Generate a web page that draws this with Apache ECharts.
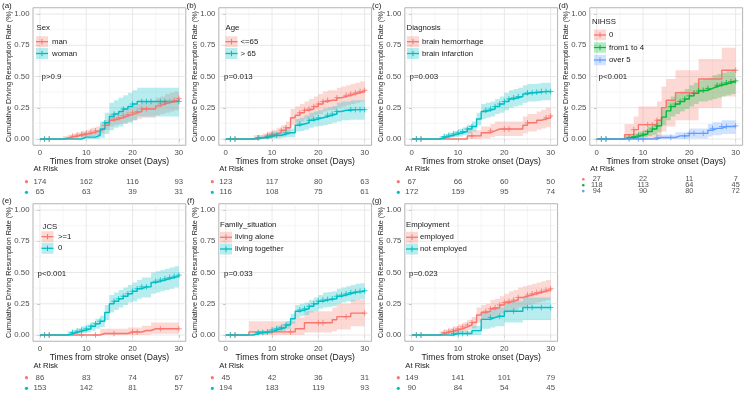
<!DOCTYPE html>
<html>
<head>
<meta charset="utf-8">
<script src="https://cdn.jsdelivr.net/npm/echarts@6/dist/echarts.min.js"></script>
<style>
  html, body { margin: 0; padding: 0; background: #fff; }
  #chart { width: 750px; height: 400px; }
</style>
</head>
<body>
<div id="chart"></div>
<script>
// time axis (days) and the risk-table time points
const days = [0,1,2,3,4,5,6,7,8,9,10,11,12,13,14,15,16,17,18,19,20,21,22,23,24,25,26,27,28,29,30];
const riskTimes = [0, 10, 20, 30];
const majorX = [0, 10, 20, 30];
const minorX = [5, 15, 25];
const majorY = [0, 0.25, 0.5, 0.75, 1];
const minorY = [0.125, 0.375, 0.625, 0.875];

// (a) Sex
const sexManEst = [0,0,0,0,0,0.008,0.015,0.022,0.03,0.037, 0.045,0.055,0.065,0.08,0.11,0.15,0.16,0.17,0.185,0.195, 0.21,0.22,0.24,0.24,0.24,0.265,0.28,0.29,0.3,0.31, 0.325];
const sexManLo = [0,0,0,0,0,0,0,0.002,0.008,0.012, 0.018,0.025,0.032,0.045,0.07,0.1,0.11,0.12,0.13,0.14, 0.15,0.16,0.17,0.17,0.17,0.19,0.2,0.21,0.22,0.23, 0.24];
const sexManHi = [0,0,0,0,0,0.025,0.035,0.045,0.055,0.065, 0.075,0.09,0.1,0.12,0.15,0.2,0.21,0.22,0.24,0.25, 0.27,0.28,0.3,0.3,0.3,0.33,0.34,0.36,0.37,0.38, 0.39];
const sexWomanEst = [0,0,0,0,0,0,0,0,0,0.015, 0.015,0.015,0.03,0.08,0.13,0.18,0.2,0.22,0.24,0.26, 0.28,0.3,0.3,0.3,0.3,0.3,0.3,0.3,0.3,0.3, 0.3];
const sexWomanLo = [0,0,0,0,0,0,0,0,0,0, 0,0,0,0.01,0.04,0.07,0.09,0.1,0.12,0.13, 0.15,0.18,0.18,0.18,0.18,0.18,0.18,0.18,0.18,0.18, 0.18];
const sexWomanHi = [0,0,0,0,0,0,0,0,0,0.05, 0.05,0.05,0.07,0.14,0.21,0.29,0.31,0.33,0.35,0.37, 0.39,0.41,0.41,0.41,0.41,0.41,0.41,0.41,0.41,0.41, 0.41];
const sexManCens = [1,2,7,8,9,10,11,12,14,16,17,18,19,20,21,22,23,26,27,28,29,30];
const sexWomanCens = [1,2,14,16,18,20,22,23,24,26,27,30];
const sexManRisk = [174, 162, 116, 93];
const sexWomanRisk = [65, 63, 39, 31];

// (b) Age
const ageYoungEst = [0,0,0,0,0,0,0.01,0.01,0.02,0.03, 0.04,0.05,0.07,0.09,0.17,0.19,0.21,0.23,0.24,0.26, 0.28,0.3,0.31,0.31,0.33,0.34,0.35,0.36,0.37,0.38, 0.39];
const ageYoungLo = [0,0,0,0,0,0,0,0,0,0.005, 0.01,0.015,0.02,0.035,0.11,0.13,0.14,0.16,0.17,0.19, 0.2,0.22,0.23,0.23,0.25,0.26,0.27,0.28,0.29,0.3, 0.31];
const ageYoungHi = [0,0,0,0,0,0,0.03,0.03,0.045,0.06, 0.075,0.09,0.11,0.14,0.24,0.26,0.28,0.3,0.32,0.34, 0.36,0.38,0.39,0.39,0.41,0.42,0.43,0.44,0.45,0.46, 0.47];
const ageOldEst = [0,0,0,0,0,0,0,0.01,0.01,0.02, 0.03,0.03,0.04,0.05,0.05,0.11,0.12,0.13,0.15,0.16, 0.17,0.18,0.19,0.2,0.22,0.23,0.23,0.235,0.235,0.235, 0.235];
const ageOldLo = [0,0,0,0,0,0,0,0,0,0, 0.005,0.005,0.01,0.015,0.015,0.06,0.065,0.075,0.09,0.1, 0.105,0.11,0.12,0.13,0.14,0.15,0.15,0.155,0.155,0.155, 0.155];
const ageOldHi = [0,0,0,0,0,0,0,0.03,0.03,0.045, 0.06,0.06,0.07,0.085,0.085,0.16,0.17,0.19,0.21,0.22, 0.23,0.245,0.255,0.265,0.29,0.3,0.3,0.31,0.31,0.31, 0.31];
const ageYoungCens = [1,2,7,9,10,12,13,16,17,18,19,20,21,22,24,26,27,28,29,30];
const ageOldCens = [1,2,7,9,10,11,13,16,18,19,20,22,23,24,27,28,29,30];
const ageYoungRisk = [123, 117, 80, 63];
const ageOldRisk = [116, 108, 75, 61];

// (c) Diagnosis
const diagHemEst = [0,0,0,0,0,0,0,0,0,0, 0,0,0.025,0.025,0.025,0.05,0.05,0.065,0.08,0.08, 0.08,0.08,0.08,0.08,0.11,0.13,0.13,0.15,0.16,0.17, 0.185];
const diagHemLo = [0,0,0,0,0,0,0,0,0,0, 0,0,0,0,0,0.005,0.005,0.015,0.025,0.025, 0.025,0.025,0.025,0.025,0.045,0.06,0.06,0.075,0.085,0.095, 0.1];
const diagHemHi = [0,0,0,0,0,0,0,0,0,0, 0,0,0.07,0.07,0.07,0.1,0.1,0.12,0.14,0.14, 0.14,0.14,0.14,0.14,0.18,0.2,0.2,0.22,0.235,0.25, 0.26];
const diagInfEst = [0,0,0,0,0,0,0.01,0.02,0.03,0.04, 0.05,0.06,0.08,0.1,0.16,0.22,0.23,0.24,0.26,0.28, 0.3,0.32,0.33,0.34,0.36,0.37,0.37,0.375,0.38,0.38, 0.38];
const diagInfLo = [0,0,0,0,0,0,0,0.005,0.01,0.015, 0.02,0.03,0.045,0.06,0.11,0.16,0.17,0.18,0.2,0.21, 0.23,0.25,0.26,0.27,0.29,0.3,0.3,0.305,0.31,0.31, 0.31];
const diagInfHi = [0,0,0,0,0,0,0.025,0.04,0.05,0.065, 0.08,0.095,0.115,0.14,0.21,0.28,0.29,0.3,0.32,0.34, 0.37,0.39,0.4,0.41,0.43,0.44,0.44,0.445,0.45,0.45, 0.45];
const diagHemCens = [1,2,13,17,20,21,25,29,30];
const diagInfCens = [1,2,7,8,9,10,11,12,13,16,17,18,19,20,21,22,23,25,26,27,28,29,30];
const diagHemRisk = [67, 66, 60, 50];
const diagInfRisk = [172, 159, 95, 74];

// (d) NIHSS
const nih0Est = [0,0,0,0,0,0,0.035,0.035,0.075,0.115, 0.115,0.115,0.115,0.15,0.25,0.31,0.31,0.37,0.37,0.37, 0.37,0.37,0.48,0.48,0.48,0.48,0.48,0.55,0.55,0.55, 0.55];
const nih0Lo = [0,0,0,0,0,0,0,0,0,0, 0,0,0,0.01,0.06,0.1,0.1,0.15,0.15,0.15, 0.15,0.15,0.25,0.25,0.25,0.25,0.25,0.34,0.34,0.34, 0.34];
const nih0Hi = [0,0,0,0,0,0,0.12,0.12,0.18,0.26, 0.26,0.26,0.26,0.3,0.42,0.48,0.48,0.55,0.55,0.55, 0.55,0.55,0.64,0.64,0.64,0.64,0.64,0.73,0.73,0.73, 0.73];
const nih14Est = [0,0,0,0,0,0,0.01,0.01,0.02,0.03, 0.04,0.06,0.08,0.105,0.175,0.225,0.26,0.28,0.3,0.32, 0.345,0.365,0.385,0.39,0.405,0.42,0.43,0.44,0.45,0.46, 0.465];
const nih14Lo = [0,0,0,0,0,0,0,0,0.005,0.01, 0.015,0.025,0.035,0.055,0.11,0.15,0.18,0.2,0.22,0.24, 0.26,0.28,0.3,0.3,0.31,0.32,0.33,0.34,0.35,0.36, 0.36];
const nih14Hi = [0,0,0,0,0,0,0.03,0.03,0.045,0.06, 0.075,0.1,0.125,0.155,0.24,0.3,0.34,0.36,0.38,0.4, 0.43,0.45,0.47,0.48,0.49,0.51,0.52,0.53,0.54,0.55, 0.56];
const nih5Est = [0,0,0,0,0,0,0,0,0,0, 0,0,0,0.012,0.012,0.012,0.012,0.025,0.025,0.025, 0.045,0.045,0.045,0.045,0.07,0.085,0.085,0.1,0.1,0.1, 0.105];
const nih5Lo = [0,0,0,0,0,0,0,0,0,0, 0,0,0,0,0,0,0,0,0,0, 0.005,0.005,0.005,0.005,0.02,0.03,0.03,0.04,0.04,0.04, 0.045];
const nih5Hi = [0,0,0,0,0,0,0,0,0,0, 0,0,0,0.035,0.035,0.035,0.035,0.055,0.055,0.055, 0.085,0.085,0.085,0.085,0.12,0.135,0.135,0.15,0.15,0.15, 0.16];
const nih0Cens = [8,11,12,13,21,30];
const nih14Cens = [1,2,7,8,9,10,11,12,13,16,17,18,19,20,21,22,23,24,26,27,28,29,30];
const nih5Cens = [1,2,7,9,10,13,16,19,20,21,23,25,27,28,30];
const nih0Risk = [27, 22, 11, 7];
const nih14Risk = [118, 113, 64, 45];
const nih5Risk = [94, 90, 80, 72];

// (e) JCS
const jcs1Est = [0,0,0,0,0,0,0,0,0,0, 0,0,0,0.012,0.012,0.012,0.012,0.012,0.012,0.024, 0.024,0.024,0.036,0.036,0.05,0.05,0.05,0.05,0.05,0.05, 0.05];
const jcs1Lo = [0,0,0,0,0,0,0,0,0,0, 0,0,0,0,0,0,0,0,0,0, 0,0,0.002,0.002,0.01,0.01,0.01,0.01,0.01,0.01, 0.01];
const jcs1Hi = [0,0,0,0,0,0,0,0,0,0, 0,0,0,0.05,0.05,0.05,0.05,0.05,0.05,0.06, 0.06,0.06,0.075,0.075,0.1,0.1,0.1,0.1,0.1,0.1, 0.1];
const jcs0Est = [0,0,0,0,0,0,0.01,0.02,0.03,0.04, 0.05,0.07,0.09,0.11,0.18,0.25,0.27,0.29,0.31,0.33, 0.35,0.37,0.385,0.385,0.42,0.43,0.44,0.45,0.46,0.47, 0.48];
const jcs0Lo = [0,0,0,0,0,0,0,0.005,0.01,0.015, 0.02,0.035,0.05,0.065,0.12,0.18,0.2,0.22,0.24,0.26, 0.27,0.29,0.3,0.3,0.33,0.34,0.35,0.36,0.37,0.38, 0.39];
const jcs0Hi = [0,0,0,0,0,0,0.03,0.04,0.055,0.07, 0.085,0.105,0.13,0.155,0.24,0.32,0.34,0.36,0.38,0.4, 0.42,0.44,0.46,0.46,0.5,0.51,0.52,0.53,0.54,0.55, 0.56];
const jcs1Cens = [1,2,9,12,16,20,21,26,30];
const jcs0Cens = [1,2,7,8,9,10,11,12,13,16,17,18,19,20,21,22,23,25,26,27,28,29,30];
const jcs1Risk = [86, 83, 74, 67];
const jcs0Risk = [153, 142, 81, 57];

// (f) Family situation
const famAloneEst = [0,0,0,0,0,0.025,0.025,0.025,0.025,0.025, 0.025,0.025,0.025,0.025,0.025,0.05,0.05,0.098,0.098,0.098, 0.098,0.098,0.098,0.122,0.147,0.147,0.147,0.175,0.175,0.175, 0.175];
const famAloneLo = [0,0,0,0,0,0,0,0,0,0, 0,0,0,0,0,0,0,0.02,0.02,0.02, 0.02,0.02,0.02,0.03,0.045,0.045,0.045,0.07,0.07,0.07, 0.07];
const famAloneHi = [0,0,0,0,0,0.11,0.11,0.11,0.11,0.11, 0.11,0.11,0.11,0.11,0.11,0.14,0.14,0.19,0.19,0.19, 0.19,0.19,0.19,0.22,0.25,0.25,0.25,0.28,0.28,0.28, 0.28];
const famTogEst = [0,0,0,0,0,0,0.01,0.02,0.02,0.025, 0.04,0.05,0.06,0.08,0.13,0.19,0.2,0.21,0.23,0.25, 0.27,0.28,0.285,0.29,0.31,0.32,0.33,0.34,0.345,0.35, 0.355];
const famTogLo = [0,0,0,0,0,0,0,0.005,0.005,0.01, 0.02,0.025,0.035,0.05,0.09,0.14,0.15,0.16,0.18,0.19, 0.21,0.22,0.225,0.23,0.25,0.26,0.27,0.27,0.28,0.285, 0.29];
const famTogHi = [0,0,0,0,0,0,0.025,0.035,0.035,0.045, 0.06,0.075,0.09,0.11,0.17,0.24,0.25,0.26,0.28,0.3, 0.32,0.34,0.345,0.35,0.37,0.38,0.39,0.4,0.41,0.415, 0.42];
const famAloneCens = [1,2,10,14,20,21,26,30];
const famTogCens = [1,2,7,8,9,10,11,12,13,16,17,18,19,20,21,22,23,24,25,26,27,28,29,30];
const famAloneRisk = [45, 42, 36, 31];
const famTogRisk = [194, 183, 119, 93];

// (g) Employment
const empYesEst = [0,0,0,0,0,0,0.01,0.02,0.03,0.04, 0.05,0.065,0.08,0.1,0.16,0.18,0.19,0.21,0.22,0.24, 0.26,0.27,0.28,0.3,0.31,0.32,0.33,0.34,0.35,0.36, 0.37];
const empYesLo = [0,0,0,0,0,0,0,0.005,0.01,0.015, 0.02,0.03,0.04,0.055,0.1,0.12,0.13,0.14,0.15,0.17, 0.18,0.19,0.2,0.22,0.23,0.24,0.25,0.26,0.27,0.28, 0.29];
const empYesHi = [0,0,0,0,0,0,0.03,0.045,0.055,0.07, 0.085,0.1,0.12,0.145,0.22,0.24,0.25,0.28,0.29,0.31, 0.33,0.35,0.36,0.38,0.39,0.4,0.41,0.42,0.43,0.44, 0.45];
const empNoEst = [0,0,0,0,0,0,0,0,0,0.012, 0.012,0.012,0.012,0.035,0.035,0.125,0.125,0.14,0.15,0.15, 0.19,0.19,0.19,0.19,0.22,0.22,0.22,0.22,0.22,0.22, 0.22];
const empNoLo = [0,0,0,0,0,0,0,0,0,0, 0,0,0,0,0,0.05,0.05,0.06,0.07,0.07, 0.1,0.1,0.1,0.1,0.12,0.12,0.12,0.12,0.12,0.12, 0.12];
const empNoHi = [0,0,0,0,0,0,0,0,0,0.035, 0.035,0.035,0.035,0.075,0.075,0.19,0.19,0.21,0.22,0.22, 0.27,0.27,0.27,0.27,0.3,0.3,0.3,0.3,0.3,0.3, 0.3];
const empYesCens = [1,2,7,8,9,10,11,12,13,16,17,18,19,20,21,22,23,25,26,27,28,29,30];
const empNoCens = [1,2,9,10,11,12,17,19,22,25,26,28,30];
const empYesRisk = [149, 141, 101, 79];
const empNoRisk = [90, 84, 54, 45];

const RED = '#F8766D', TEAL = '#00BFC4', GREEN = '#00BA38', BLUE = '#619CFF';

const panels = [
  { tag: '(a)', title: 'Sex', pval: 'p>0.9', groups: [
    { name: 'man', color: RED, est: sexManEst, lo: sexManLo, hi: sexManHi, cens: sexManCens, risk: sexManRisk },
    { name: 'woman', color: TEAL, est: sexWomanEst, lo: sexWomanLo, hi: sexWomanHi, cens: sexWomanCens, risk: sexWomanRisk }] },
  { tag: '(b)', title: 'Age', pval: 'p=0.013', groups: [
    { name: '<=65', color: RED, est: ageYoungEst, lo: ageYoungLo, hi: ageYoungHi, cens: ageYoungCens, risk: ageYoungRisk },
    { name: '> 65', color: TEAL, est: ageOldEst, lo: ageOldLo, hi: ageOldHi, cens: ageOldCens, risk: ageOldRisk }] },
  { tag: '(c)', title: 'Diagnosis', pval: 'p=0.003', groups: [
    { name: 'brain hemorrhage', color: RED, est: diagHemEst, lo: diagHemLo, hi: diagHemHi, cens: diagHemCens, risk: diagHemRisk },
    { name: 'brain infarction', color: TEAL, est: diagInfEst, lo: diagInfLo, hi: diagInfHi, cens: diagInfCens, risk: diagInfRisk }] },
  { tag: '(d)', title: 'NIHSS', pval: 'p<0.001', groups: [
    { name: '0', color: RED, est: nih0Est, lo: nih0Lo, hi: nih0Hi, cens: nih0Cens, risk: nih0Risk },
    { name: 'from1 to 4', color: GREEN, est: nih14Est, lo: nih14Lo, hi: nih14Hi, cens: nih14Cens, risk: nih14Risk },
    { name: 'over 5', color: BLUE, est: nih5Est, lo: nih5Lo, hi: nih5Hi, cens: nih5Cens, risk: nih5Risk }] },
  { tag: '(e)', title: 'JCS', pval: 'p<0.001', groups: [
    { name: '>=1', color: RED, est: jcs1Est, lo: jcs1Lo, hi: jcs1Hi, cens: jcs1Cens, risk: jcs1Risk },
    { name: '0', color: TEAL, est: jcs0Est, lo: jcs0Lo, hi: jcs0Hi, cens: jcs0Cens, risk: jcs0Risk }] },
  { tag: '(f)', title: 'Family_situation', pval: 'p=0.033', groups: [
    { name: 'living alone', color: RED, est: famAloneEst, lo: famAloneLo, hi: famAloneHi, cens: famAloneCens, risk: famAloneRisk },
    { name: 'living together', color: TEAL, est: famTogEst, lo: famTogLo, hi: famTogHi, cens: famTogCens, risk: famTogRisk }] },
  { tag: '(g)', title: 'Employment', pval: 'p=0.023', groups: [
    { name: 'employed', color: RED, est: empYesEst, lo: empYesLo, hi: empYesHi, cens: empYesCens, risk: empYesRisk },
    { name: 'not employed', color: TEAL, est: empNoEst, lo: empNoLo, hi: empNoHi, cens: empNoCens, risk: empNoRisk }] }
];

// layout (pixels)
const FONT = '"Liberation Sans", Arial, sans-serif';
const COLX = [33, 218.8, 404.8, 589.8];
const ROWY = [7.75, 203.75];
const PW = 152.8, PH = 137.5;
const panelCell = [[0, 0], [1, 0], [2, 0], [3, 0], [0, 1], [1, 1], [2, 1]];
const legendPos = [
  { tx: 36.5, ty: 28, kx: 36, lx: 52, ky: [41.7, 53.5], kh: 11 },
  { tx: 225.5, ty: 28, kx: 225.5, lx: 240.5, ky: [41.7, 53.5], kh: 11 },
  { tx: 406.5, ty: 28, kx: 407, lx: 422, ky: [41.7, 53.5], kh: 11 },
  { tx: 592, ty: 21.7, kx: 594, lx: 609, ky: [35, 47.5, 60], kh: 10.5 },
  { tx: 42.5, ty: 226.7, kx: 41.5, lx: 58, ky: [236.7, 248.3], kh: 11 },
  { tx: 220, ty: 225, kx: 220, lx: 235, ky: [237.3, 249], kh: 11 },
  { tx: 406, ty: 225, kx: 406, lx: 420, ky: [237.3, 249], kh: 11 }
];
const pPos = [[41.5, 77], [224, 77], [409.5, 77], [598.5, 77], [37.5, 274], [224, 274], [409, 274]];
const tagPos = [[2, 5.5], [186.5, 5.5], [372, 5.5], [558.5, 5.5], [2, 200.5], [187, 200.5], [372, 200.5]];
const atRiskY = [169, 365.7];
const riskTop = [176.4, 372.4];

function rgba(hex, a) {
  const n = parseInt(hex.slice(1), 16);
  return `rgba(${(n >> 16) & 255},${(n >> 8) & 255},${n & 255},${a})`;
}

const PLUS = 'path://M0,5L10,5M5,0L5,10';
const option = {
  animation: false,
  backgroundColor: '#fff',
  textStyle: { fontFamily: FONT },
  grid: [], xAxis: [], yAxis: [], series: [], graphic: []
};
const gfx = [];
const txt = (x, y, text, size, extra) => gfx.push(Object.assign({
  type: 'text', x, y, z: 100, silent: true,
  style: Object.assign({ text, fontSize: size, fontFamily: FONT, fill: '#1a1a1a', align: 'left', verticalAlign: 'middle' }, extra || {})
}));

let gi = 0;
panels.forEach((pn, i) => {
  const [c, r] = panelCell[i];
  const left = COLX[c], top = ROWY[r];

  option.grid.push({ left, top, width: PW, height: PH, show: true, borderColor: '#b3b3b3', borderWidth: 1,
    backgroundColor: '#fff', outerBoundsMode: 'none' });
  option.xAxis.push({ gridIndex: gi, type: 'value', min: -1.5, max: 31.5,
    splitLine: { show: false }, axisLine: { show: false },
    axisTick: { show: true, customValues: majorX, length: 2.5, lineStyle: { color: '#b3b3b3' } },
    axisLabel: { customValues: majorX, margin: 3.5, fontSize: 7.8, color: '#4d4d4d', fontFamily: FONT } });
  option.yAxis.push({ gridIndex: gi, type: 'value', min: -0.05, max: 1.05,
    splitLine: { show: false }, axisLine: { show: false },
    axisTick: { show: true, customValues: majorY, length: 2.5, lineStyle: { color: '#b3b3b3' } },
    axisLabel: { customValues: majorY, margin: 3.5, fontSize: 7.8, color: '#4d4d4d', fontFamily: FONT,
      formatter: v => Number(v).toFixed(2) } });

  // panel grid lines
  option.series.push({
    type: 'custom', xAxisIndex: gi, yAxisIndex: gi, z: 1, silent: true, data: [[0, 0]],
    renderItem: (params, api) => {
      const kids = [];
      const vline = (v, col, w) => {
        const a = api.coord([v, -0.05]), b = api.coord([v, 1.05]);
        kids.push({ type: 'line', shape: { x1: a[0], y1: a[1], x2: b[0], y2: b[1] }, style: { stroke: col, lineWidth: w } });
      };
      const hline = (v, col, w) => {
        const a = api.coord([-1.5, v]), b = api.coord([31.5, v]);
        kids.push({ type: 'line', shape: { x1: a[0], y1: a[1], x2: b[0], y2: b[1] }, style: { stroke: col, lineWidth: w } });
      };
      minorX.forEach(v => vline(v, '#f0f0f0', 0.6));
      minorY.forEach(v => hline(v, '#f0f0f0', 0.6));
      majorX.forEach(v => vline(v, '#e2e2e2', 0.8));
      majorY.forEach(v => hline(v, '#e2e2e2', 0.8));
      return { type: 'group', children: kids };
    }
  });

  pn.groups.forEach(g => {
    // confidence band as a step polygon
    option.series.push({
      type: 'custom', xAxisIndex: gi, yAxisIndex: gi, z: 2, silent: true, clip: true,
      data: days.map((d, k) => [d, g.lo[k], g.hi[k]]),
      encode: { x: 0, y: [1, 2] },
      renderItem: (params, api) => {
        if (params.dataIndex !== 0) return null;
        const n = days.length, pts = [];
        for (let k = 0; k < n; k++) {
          pts.push(api.coord([days[k], g.hi[k]]));
          if (k < n - 1) pts.push(api.coord([days[k + 1], g.hi[k]]));
        }
        for (let k = n - 1; k >= 0; k--) {
          if (k < n - 1) pts.push(api.coord([days[k + 1], g.lo[k]]));
          pts.push(api.coord([days[k], g.lo[k]]));
        }
        return { type: 'polygon', shape: { points: pts }, style: { fill: rgba(g.color, 0.28) } };
      }
    });
  });
  pn.groups.forEach(g => {
    option.series.push({
      type: 'line', xAxisIndex: gi, yAxisIndex: gi, z: 3, silent: true, step: 'end',
      data: days.map((d, k) => [d, g.est[k]]), showSymbol: false, symbol: 'none',
      lineStyle: { color: g.color, width: 1.4 }
    });
    option.series.push({
      type: 'scatter', xAxisIndex: gi, yAxisIndex: gi, z: 4, silent: true,
      data: g.cens.map(t => [t, g.est[Math.floor(t)]]),
      symbol: PLUS, symbolSize: 5.5,
      itemStyle: { color: 'rgba(0,0,0,0)', borderColor: g.color, borderWidth: 1 }
    });
  });
  gi++;

  // risk table
  const nG = pn.groups.length;
  const rTop = riskTop[r] + (nG === 3 ? -0.05 : 0);
  const rH = nG === 3 ? 17.7 : 21.2;
  option.grid.push({ left, top: rTop, width: PW, height: rH, show: false, outerBoundsMode: 'none' });
  option.xAxis.push({ gridIndex: gi, type: 'value', min: -1.5, max: 31.5, show: false });
  option.yAxis.push({ gridIndex: gi, type: 'category', data: pn.groups.map(g => g.name), inverse: true, show: false });
  option.series.push({
    type: 'scatter', xAxisIndex: gi, yAxisIndex: gi, silent: true, symbolSize: 0,
    data: pn.groups.flatMap((g, k) => riskTimes.map((t, j) => [t, k, g.risk[j]])),
    label: { show: true, position: 'inside', formatter: p => String(p.value[2]),
      fontSize: nG === 3 ? 7.3 : 7.8, color: '#1a1a1a', fontFamily: FONT }
  });
  gi++;

  // decorations: tag, axis titles, legend, p-value, risk header and dots
  txt(tagPos[i][0], tagPos[i][1], pn.tag, 8);
  txt(left - 23.5, top + PH / 2, 'Cumulative Driving Resumption Rate (%)', 7.2, { align: 'center' });
  gfx[gfx.length - 1].rotation = Math.PI / 2;
  txt(left + PW / 2, top + PH + 16.5, 'Times from stroke onset (Days)', 8.6, { align: 'center' });
  txt(pPos[i][0], pPos[i][1], pn.pval, 7.9);
  const L = legendPos[i];
  txt(L.tx, L.ty, pn.title, 7.8);
  pn.groups.forEach((g, k) => {
    const y = L.ky[k];
    gfx.push({ type: 'rect', z: 100, silent: true, shape: { x: L.kx, y: y - L.kh / 2, width: 12, height: L.kh },
      style: { fill: rgba(g.color, 0.28) } });
    gfx.push({ type: 'line', z: 101, silent: true, shape: { x1: L.kx, y1: y, x2: L.kx + 12, y2: y },
      style: { stroke: g.color, lineWidth: 1.3 } });
    gfx.push({ type: 'line', z: 101, silent: true, shape: { x1: L.kx + 6, y1: y - 2.7, x2: L.kx + 6, y2: y + 2.7 },
      style: { stroke: g.color, lineWidth: 1 } });
    txt(L.lx, y, g.name, 7.8);
    gfx.push({ type: 'circle', z: 100, silent: true,
      shape: { cx: left - 6.5, cy: rTop + rH * (k + 0.5) / nG, r: nG === 3 ? 1.3 : 1.6 },
      style: { fill: g.color } });
  });
  txt(left + 0.5, atRiskY[r], 'At Risk', 7.7);
});

option.graphic = gfx;
const chart = echarts.init(document.getElementById('chart'), null, { renderer: 'canvas' });
chart.setOption(option);
</script>
</body>
</html>
